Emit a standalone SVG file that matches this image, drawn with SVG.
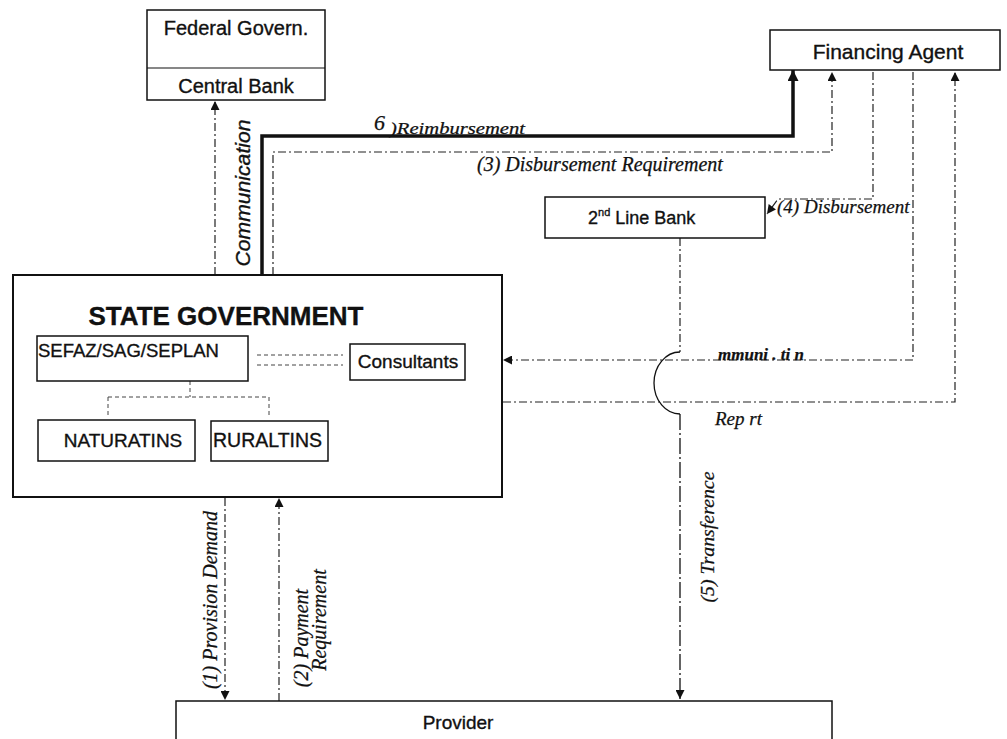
<svg xmlns="http://www.w3.org/2000/svg" width="1007" height="739" viewBox="0 0 1007 739">
<style>
.box{fill:#fff;stroke:#111;stroke-width:1.5}
.sans{font-family:"Liberation Sans",Arial,sans-serif;fill:#111;stroke:#111;stroke-width:0.35}
.ital{font-family:"Liberation Serif","Times New Roman",serif;font-style:italic;fill:#111;stroke:#111;stroke-width:0.25}
.dd{fill:none;stroke:#222;stroke-width:1.2;stroke-dasharray:8 3 2 3}
.dot{fill:none;stroke:#444;stroke-width:1;stroke-dasharray:4 3}
</style>
<defs>
<marker id="ah" viewBox="0 0 10 10" refX="10" refY="5" markerWidth="10" markerHeight="9" markerUnits="userSpaceOnUse" orient="auto"><path d="M0,0 L10,5 L0,10 z" fill="#111"/></marker>
<marker id="ahb" viewBox="0 0 10 10" refX="10" refY="5" markerWidth="12" markerHeight="11" markerUnits="userSpaceOnUse" orient="auto"><path d="M0,0 L10,5 L0,10 z" fill="#111"/></marker>
</defs>
<rect width="1007" height="739" fill="#fff"/>

<g id="connectors">
<path d="M262,275 V136 H793 V70" fill="none" stroke="#111" stroke-width="3.5" marker-end="url(#ahb)"/>
<path class="dd" d="M273,275 V152 H832 V72" marker-end="url(#ah)"/>
<path class="dd" d="M215,275 V101" marker-end="url(#ah)"/>
<path class="dd" d="M873,72 V199 H778 L767,214" marker-end="url(#ah)"/>
<path class="dd" d="M913,72 V360 H503" marker-end="url(#ah)"/>
<path class="dd" d="M503,402 H955 V72" marker-end="url(#ah)"/>
<path class="dd" d="M680,238 V352"/>
<path d="M680,352 A26,31 0 0 0 680,414" fill="none" stroke="#111" stroke-width="1.3"/>
<path d="M680,414 V699" fill="none" stroke="#111" stroke-width="1.3" stroke-dasharray="16 3 2 3" marker-end="url(#ah)"/>
<path class="dd" d="M225,498 V700" marker-end="url(#ah)"/>
<path class="dd" d="M279,701 V498" marker-end="url(#ah)"/>
<path class="dot" d="M257,355 H343 M257,365 H343"/>
<path class="dot" d="M190,381 V397 M108,397 H269 M108,397 V418 M269,397 V418"/>
</g>

<g id="labels">
<text class="ital" x="374" y="130" font-size="22" font-style="normal">6</text>
<text class="ital" x="390" y="134" font-size="17" textLength="135" lengthAdjust="spacingAndGlyphs">)Reimbursement</text>
<text class="ital" x="477" y="171" font-size="20">(3) Disbursement Requirement</text>
<text class="ital" x="777" y="213" font-size="19">(4) Disbursement</text>
<text class="ital" x="718" y="360" font-size="17" font-weight="bold">mmuni . ti n</text>
<text class="ital" x="715" y="425" font-size="19">Rep  rt</text>
<text class="sans" font-style="italic" font-size="20" text-anchor="middle" textLength="147" lengthAdjust="spacingAndGlyphs" transform="translate(250,193) rotate(-90)">Communication</text>
<text class="ital" font-size="20" text-anchor="middle" transform="translate(217,600) rotate(-90)">(1) Provision Demand</text>
<text class="ital" font-size="20" text-anchor="middle" transform="translate(308,638) rotate(-90)">(2) Payment</text>
<text class="ital" font-size="20" text-anchor="middle" transform="translate(326,620) rotate(-90)">Requirement</text>
<text class="ital" font-size="19" text-anchor="middle" textLength="131" lengthAdjust="spacingAndGlyphs" transform="translate(714,537) rotate(-90)">(5) Transference</text>
</g>

<g id="federal">
<rect class="box" x="147" y="10" width="178" height="90"/>
<line x1="147" y1="68" x2="325" y2="68" stroke="#111" stroke-width="1.2"/>
<text class="sans" x="236" y="35" font-size="20" text-anchor="middle">Federal Govern.</text>
<text class="sans" x="236" y="93" font-size="20" text-anchor="middle">Central Bank</text>
</g>

<g id="financing-agent">
<rect class="box" x="770" y="30" width="230" height="40"/>
<text class="sans" x="888" y="59" font-size="21" text-anchor="middle">Financing Agent</text>
</g>

<g id="second-line-bank">
<rect class="box" x="545" y="197" width="220" height="41"/>
<text class="sans" x="588" y="224" font-size="18">2<tspan font-size="11" dy="-8">nd</tspan><tspan dy="8"> Line Bank</tspan></text>
</g>

<g id="state-government">
<rect x="13" y="275" width="489" height="222" fill="none" stroke="#111" stroke-width="2"/>
<text class="sans" x="226" y="325" font-size="26" font-weight="bold" text-anchor="middle">STATE GOVERNMENT</text>
</g>

<g id="sefaz">
<rect class="box" x="37" y="336" width="211" height="45"/>
<text class="sans" x="38" y="357" font-size="18.5">SEFAZ/SAG/SEPLAN</text>
</g>

<g id="consultants">
<rect class="box" x="350" y="344" width="115" height="36"/>
<text class="sans" x="408" y="368" font-size="19" text-anchor="middle">Consultants</text>
</g>

<g id="naturatins">
<rect class="box" x="38" y="420" width="157" height="41"/>
<text class="sans" x="123" y="447" font-size="19" text-anchor="middle">NATURATINS</text>
</g>

<g id="ruraltins">
<rect class="box" x="211" y="421" width="117" height="40"/>
<text class="sans" x="213" y="447" font-size="19.5">RURALTINS</text>
</g>

<g id="provider">
<rect class="box" x="176" y="701" width="656" height="60"/>
<text class="sans" x="458" y="729" font-size="19" text-anchor="middle">Provider</text>
</g>
</svg>
